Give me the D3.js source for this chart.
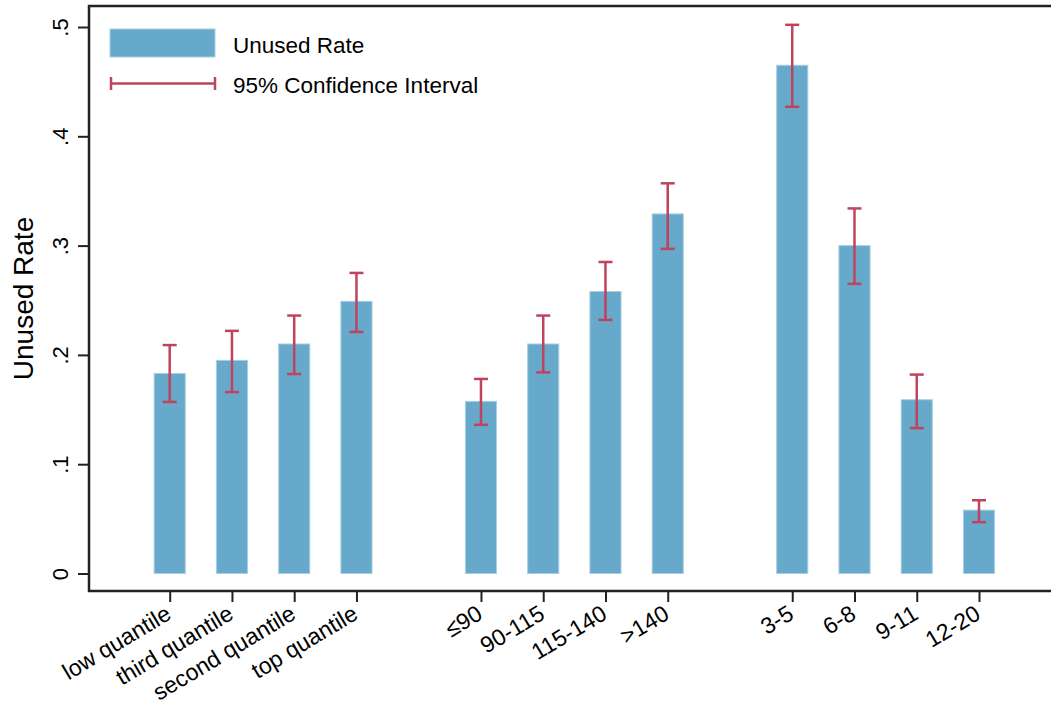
<!DOCTYPE html>
<html>
<head>
<meta charset="utf-8">
<script src="https://cdn.jsdelivr.net/npm/d3@7"></script>
<style>
  body { margin: 0; background: #fff; }
  svg { font-family: Helvetica, "Liberation Sans", Arial, sans-serif; }
</style>
</head>
<body>
<svg id="chart" width="1051" height="704"></svg>
<script>
// categories, grouped in three blocks with an empty slot between blocks
var categories = ["low quantile", "third quantile", "second quantile", "top quantile",
                  "\u226490", "90-115", "115-140", ">140",
                  "3-5", "6-8", "9-11", "12-20"];
var groups = [0, 0, 0, 0, 1, 1, 1, 1, 2, 2, 2, 2];
// unused rate and 95% CI bounds
var values = [0.183, 0.195, 0.210, 0.249, 0.1575, 0.210, 0.258, 0.329, 0.465, 0.300, 0.159, 0.058];
var lower  = [0.157, 0.166, 0.1825, 0.221, 0.136, 0.184, 0.232, 0.297, 0.427, 0.265, 0.133, 0.047];
var upper  = [0.209, 0.222, 0.236, 0.275, 0.178, 0.236, 0.285, 0.357, 0.502, 0.334, 0.182, 0.067];
var yTicks = [0, 0.1, 0.2, 0.3, 0.4, 0.5];

var barColor = "#67a9ca";
var ciColor = "#c0435d";
var axisColor = "#222";

var svg = d3.select("#chart");
var plotLeft = 89, plotTop = 6, plotBottom = 591, plotRight = 1051;

var data = categories.map(function(c, i) {
  return {cat: c, slot: i + groups[i], v: values[i], lo: lower[i], hi: upper[i]};
});

var x = d3.scaleLinear().domain([0, 13]).range([169.7, 979]);
var y = d3.scaleLinear().domain([0, 0.5]).range([573.5, 27]);
var barW = (x(1) - x(0)) * 0.5;
var capW = 14;

// bars
svg.append("g").selectAll("rect")
  .data(data)
  .enter().append("rect")
  .attr("x", function(d) { return x(d.slot) - barW / 2; })
  .attr("y", function(d) { return y(d.v); })
  .attr("width", barW)
  .attr("height", function(d) { return y(0) - y(d.v); })
  .attr("fill", barColor)
  .attr("stroke", "#a8cfe3")
  .attr("stroke-width", 1);

// error bars
var eb = svg.append("g")
  .attr("stroke", ciColor)
  .attr("stroke-width", 2.5)
  .selectAll("g")
  .data(data)
  .enter().append("g");

eb.append("line")
  .attr("x1", function(d) { return x(d.slot); })
  .attr("x2", function(d) { return x(d.slot); })
  .attr("y1", function(d) { return y(d.lo); })
  .attr("y2", function(d) { return y(d.hi); });
eb.append("line")
  .attr("x1", function(d) { return x(d.slot) - capW / 2; })
  .attr("x2", function(d) { return x(d.slot) + capW / 2; })
  .attr("y1", function(d) { return y(d.hi); })
  .attr("y2", function(d) { return y(d.hi); });
eb.append("line")
  .attr("x1", function(d) { return x(d.slot) - capW / 2; })
  .attr("x2", function(d) { return x(d.slot) + capW / 2; })
  .attr("y1", function(d) { return y(d.lo); })
  .attr("y2", function(d) { return y(d.lo); });

// y axis
var yAxis = svg.append("g")
  .attr("transform", "translate(" + plotLeft + ",0)")
  .call(d3.axisLeft(y).tickValues(yTicks).tickSize(11).tickSizeOuter(0)
    .tickFormat(function(d) { return d === 0 ? "0" : d3.format(".1f")(d).replace(/^0/, ""); }));
yAxis.select(".domain").remove();
yAxis.selectAll(".tick line").attr("stroke", axisColor).attr("stroke-width", 2);
yAxis.selectAll(".tick text")
  .attr("x", 0).attr("y", 0).attr("dy", 0)
  .attr("text-anchor", "middle")
  .attr("transform", "translate(-21,0) rotate(-90)")
  .attr("font-size", 22)
  .attr("fill", "#000");

// x axis
var xAxis = svg.append("g")
  .attr("transform", "translate(0," + plotBottom + ")")
  .call(d3.axisBottom(x).tickValues(data.map(function(d) { return d.slot; }))
    .tickSize(11).tickSizeOuter(0)
    .tickFormat(function(d, i) { return categories[i]; }));
xAxis.select(".domain").remove();
xAxis.selectAll(".tick line").attr("stroke", axisColor).attr("stroke-width", 2);
xAxis.selectAll(".tick text")
  .attr("x", 0).attr("y", 0).attr("dy", "0.71em")
  .attr("text-anchor", "end")
  .attr("transform", "translate(-6,13) rotate(-31)")
  .attr("font-size", 23)
  .attr("fill", "#000");

// frame lines
svg.append("path")
  .attr("d", "M" + plotRight + "," + plotTop + "H" + plotLeft + "V" + plotBottom + "H" + plotRight)
  .attr("fill", "none")
  .attr("stroke", axisColor)
  .attr("stroke-width", 2.5);

// y title
svg.append("text")
  .attr("transform", "translate(33," + ((plotTop + plotBottom) / 2) + ") rotate(-90)")
  .attr("text-anchor", "middle")
  .attr("font-size", 28)
  .text("Unused Rate");

// legend
var lg = svg.append("g");
lg.append("rect")
  .attr("x", 110).attr("y", 29)
  .attr("width", 105).attr("height", 28)
  .attr("fill", barColor)
  .attr("stroke", "#a8cfe3");
lg.append("text")
  .attr("x", 233).attr("y", 53)
  .attr("font-size", 22.5)
  .text("Unused Rate");

var ly = 83.5;
lg.append("path")
  .attr("d", "M110," + ly + "H216M111," + (ly - 6.5) + "V" + (ly + 6.5) + "M215," + (ly - 6.5) + "V" + (ly + 6.5))
  .attr("fill", "none")
  .attr("stroke", ciColor)
  .attr("stroke-width", 2.5);
lg.append("text")
  .attr("x", 233).attr("y", 92.5)
  .attr("font-size", 22.5)
  .text("95% Confidence Interval");
</script>
</body>
</html>
